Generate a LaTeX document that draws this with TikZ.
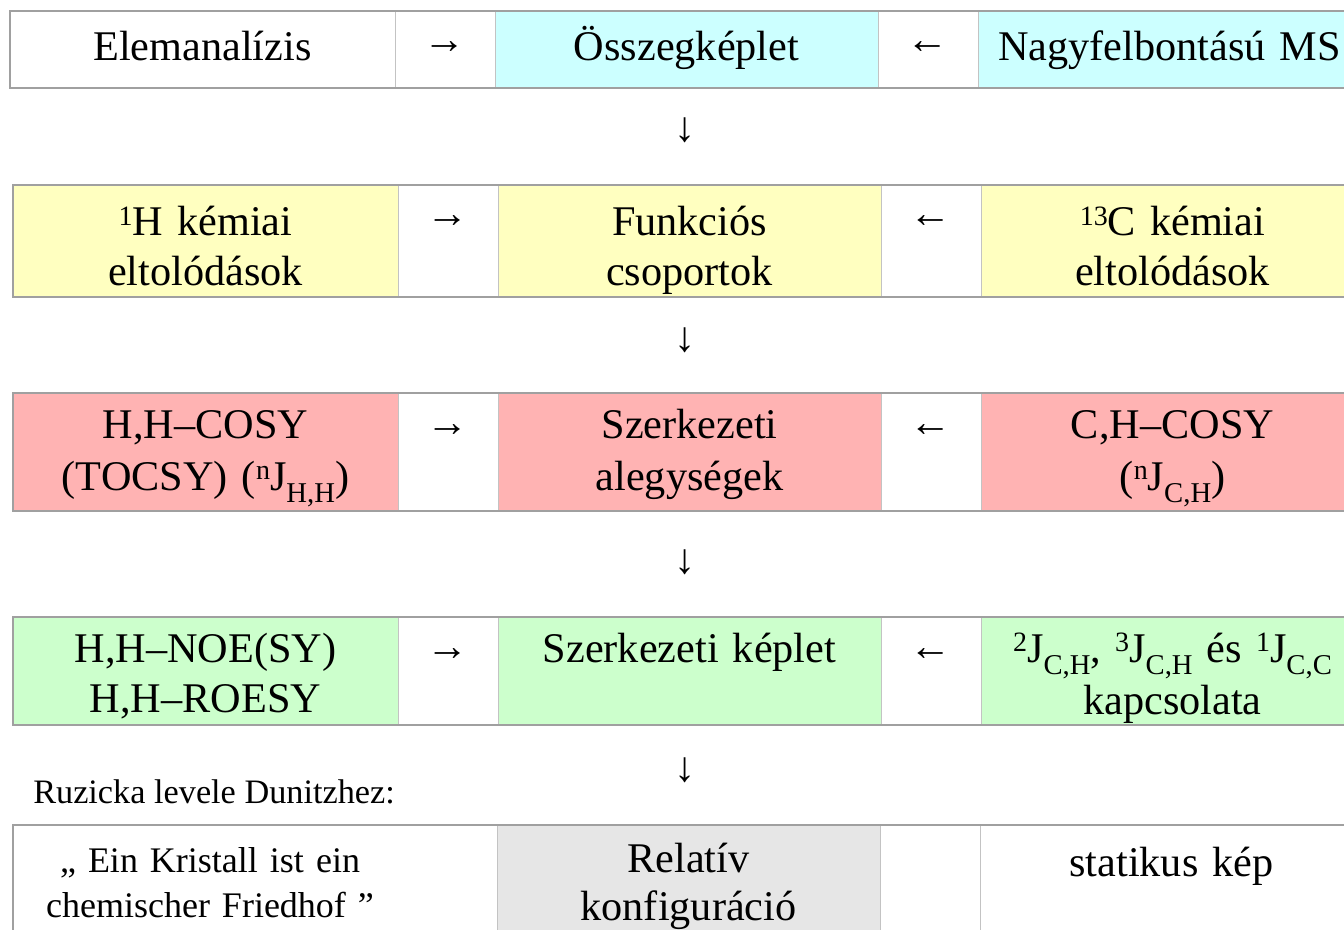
\documentclass[tikz,border=0pt]{standalone}
\usepackage{fontspec}
\setmainfont{Liberation Serif}
\usetikzlibrary{positioning}

\definecolor{formulacyan}{RGB}{204,255,255}
\definecolor{shiftyellow}{RGB}{255,255,192}
\definecolor{cosyred}{RGB}{255,179,179}
\definecolor{noegreen}{RGB}{204,255,204}
\definecolor{configgrey}{RGB}{230,230,230}
\definecolor{rowline}{RGB}{160,160,160}
\definecolor{colline}{RGB}{195,195,195}

\newcommand{\cellfont}{\fontsize{31.7pt}{37.5pt}\selectfont}
\newcommand{\hiidx}[1]{\raisebox{0.25em}{\fontsize{21pt}{21pt}\selectfont #1}}
\newcommand{\loidx}[1]{\raisebox{-0.3em}{\fontsize{21.5pt}{21.5pt}\selectfont #1}}

\tikzset{
    cell/.style={rectangle, draw=colline, line width=0.75pt, inner sep=0pt, outer sep=0pt, align=center, font=\cellfont},
    lines/.style={font=\fontsize{31.7pt}{#1}\selectfont},
    wide/.style={text width=288.75pt},
    mid/.style={text width=287.25pt},
    arrowcell/.style={text width=75pt, text height=32.25pt, fill=white},
    rowone/.style={cell, text height=37.5pt, text depth=20.25pt},
    rowtwo/.style={cell, lines=37.5pt, text height=38.25pt, text depth=45.75pt},
    rowthree/.style={cell, lines=39pt, text height=33.75pt, text depth=54.75pt},
    rowfour/.style={cell, lines=37.5pt, text height=33.75pt, text depth=47.25pt},
    rowfive/.style={cell, lines=36pt, text height=35.25pt, text depth=69.75pt},
    frame/.style={draw=rowline, line width=1.5pt},
    down/.style={font=\cellfont, inner sep=0pt},
}

\begin{document}
\begin{tikzpicture}[x=0.75pt, y=-0.75pt]
    \useasboundingbox (0,0) rectangle (1344,930);
    \clip (0,0) rectangle (1344,930);

    % row 1
    \node [rowone, wide, anchor=north west] (elem) at (10,11) {Elemanalízis};
    \node [rowone, arrowcell, text depth=25.5pt, right=0pt of elem] (ar1) {→};
    \node [rowone, mid, fill=formulacyan, right=0pt of ar1] (fsum) {Összegképlet};
    \node [rowone, arrowcell, text depth=25.5pt, right=0pt of fsum] (al1) {←};
    \node [rowone, mid, fill=formulacyan, right=0pt of al1] (hrms) {Nagyfelbontású MS};
    \draw [frame] (elem.north west) rectangle (hrms.south east);

    % row 2
    \node [rowtwo, wide, fill=shiftyellow, anchor=north west] (hshift) at (13,185) {\hiidx{1}H kémiai\\eltolódások};
    \node [rowtwo, arrowcell, text depth=51.75pt, right=0pt of hshift] (ar2) {→};
    \node [rowtwo, mid, fill=shiftyellow, right=0pt of ar2] (func) {Funkciós\\csoportok};
    \node [rowtwo, arrowcell, text depth=51.75pt, right=0pt of func] (al2) {←};
    \node [rowtwo, mid, fill=shiftyellow, right=0pt of al2] (cshift) {\hiidx{13}C kémiai\\eltolódások};
    \draw [frame] (hshift.north west) rectangle (cshift.south east);

    % row 3
    \node [rowthree, wide, fill=cosyred, anchor=north west] (hhcosy) at (13,393) {H,H–COSY\\(TOCSY) (\hiidx{n}J\loidx{H,H})};
    \node [rowthree, arrowcell, text depth=56.25pt, right=0pt of hhcosy] (ar3) {→};
    \node [rowthree, mid, fill=cosyred, right=0pt of ar3] (units) {Szerkezeti\\alegységek};
    \node [rowthree, arrowcell, text depth=56.25pt, right=0pt of units] (al3) {←};
    \node [rowthree, mid, fill=cosyred, right=0pt of al3] (chcosy) {C,H–COSY\\(\hiidx{n}J\loidx{C,H})};
    \draw [frame] (hhcosy.north west) rectangle (chcosy.south east);

    % row 4
    \node [rowfour, wide, fill=noegreen, anchor=north west] (noesy) at (13,617) {H,H–NOE(SY)\\H,H–ROESY};
    \node [rowfour, arrowcell, text depth=48.75pt, right=0pt of noesy] (ar4) {→};
    \node [rowfour, mid, fill=noegreen, right=0pt of ar4] (sform) {Szerkezeti képlet};
    \node [rowfour, arrowcell, text depth=48.75pt, right=0pt of sform] (al4) {←};
    \node [rowfour, mid, fill=noegreen, lines=39pt, right=0pt of al4] (jcoup) {\hiidx{2}J\loidx{C,H}, \hiidx{3}J\loidx{C,H} és \hiidx{1}J\loidx{C,C}\\kapcsolata};
    \draw [frame] (noesy.north west) rectangle (jcoup.south east);

    % letter and row 5
    \node [font=\fontsize{25.7pt}{30pt}\selectfont, anchor=base west, inner sep=0pt] (letter) at (33,803) {Ruzicka levele Dunitzhez:};
    \node [rowfive, draw=none, text width=295.5pt, font=\fontsize{27pt}{33.75pt}\selectfont, anchor=north west] (quote) at (13,825) {„ Ein Kristall ist ein\\chemischer Friedhof ”};
    \node [rowfive, mid, fill=configgrey, right=67.5pt of quote] (conf) {Relatív\\konfiguráció};
    \node [rowfive, arrowcell, text depth=72.75pt, right=0pt of conf] (gap5) {};
    \node [rowfive, mid, text height=38.25pt, text depth=66.75pt, right=0pt of gap5] (static) {statikus kép};
    \draw [frame] (quote.north west) rectangle (static.south east);

    % arrows between rows
    \foreach \y [count=\i] in {130,340,562,770}
        \node [down] (down\i) at (685,\y) {↓};
\end{tikzpicture}
\end{document}
